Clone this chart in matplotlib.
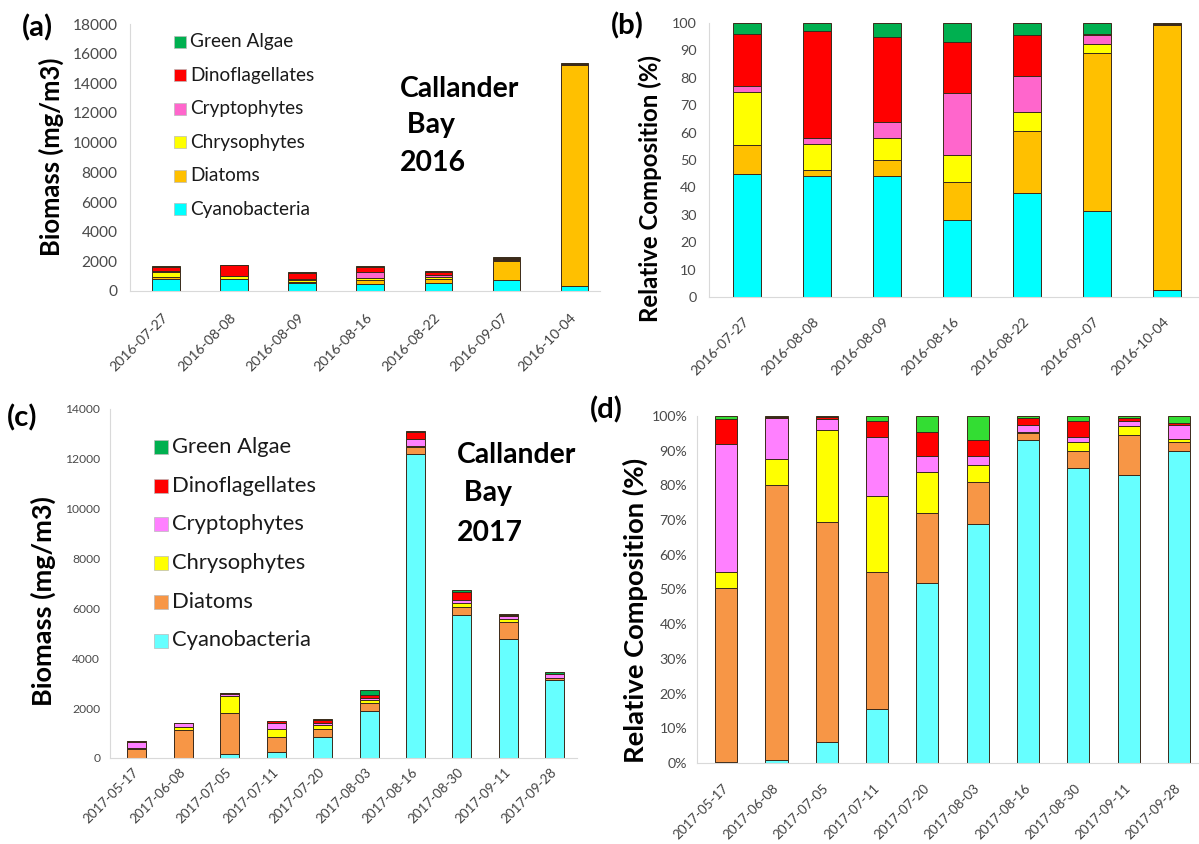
import numpy as np
import matplotlib
matplotlib.use("Agg")
import matplotlib.pyplot as plt
from matplotlib.patches import Rectangle

plt.rcParams['font.family'] = ['Lato', 'DejaVu Sans']

groups = ["Cyanobacteria", "Diatoms", "Chrysophytes", "Cryptophytes", "Dinoflagellates", "Green Algae"]

# 2016
dates_16 = ["2016-07-27", "2016-08-08", "2016-08-09", "2016-08-16", "2016-08-22", "2016-09-07", "2016-10-04"]
bio16_cyano = [780, 780, 560, 480, 520, 760, 350]
bio16_diat = [180, 45, 75, 240, 300, 1280, 14870]
bio16_chry = [330, 170, 100, 170, 95, 80, 10]
bio16_cryp = [35, 35, 75, 385, 175, 70, 10]
bio16_dino = [320, 690, 390, 315, 200, 10, 50]
bio16_green = [70, 50, 60, 120, 60, 90, 80]

pct16_cyano = [45, 44, 44, 28, 38, 31.5, 2.5]
pct16_diat = [10.5, 2.5, 6, 14, 22.5, 57.5, 96.8]
pct16_chry = [19.5, 9.5, 8, 10, 7, 3.5, 0.1]
pct16_cryp = [2, 2, 6, 22.5, 13, 3, 0.1]
pct16_dino = [19, 39, 31, 18.5, 15, 0.5, 0.2]
pct16_green = [4, 3, 5, 7, 4.5, 4, 0.3]

# 2017
dates_17 = ["2017-05-17", "2017-06-08", "2017-07-05", "2017-07-11", "2017-07-20",
            "2017-08-03", "2017-08-16", "2017-08-30", "2017-09-11", "2017-09-28"]
bio17_cyano = [2, 14, 156, 232, 840, 1880, 12200, 5730, 4790, 3110]
bio17_diat = [352, 1122, 1651, 593, 310, 324, 264, 338, 661, 85]
bio17_chry = [32, 106, 689, 330, 186, 135, 66, 169, 144, 34]
bio17_cryp = [259, 170, 78, 255, 70, 68, 264, 101, 86, 136]
bio17_dino = [49, 3, 18, 68, 108, 121, 264, 304, 58, 17]
bio17_green = [7, 5, 8, 22, 70, 189, 66, 101, 29, 68]

pct17_cyano = [0.3, 1, 6, 15.5, 52, 69, 93, 85, 83, 90]
pct17_diat = [50.2, 79, 63.5, 39.5, 20, 12, 2, 5, 11.5, 2.5]
pct17_chry = [4.5, 7.5, 26.5, 22, 12, 5, 0.5, 2.5, 2.5, 1]
pct17_cryp = [37, 12, 3, 17, 4.5, 2.5, 2, 1.5, 1.5, 4]
pct17_dino = [7, 0.2, 0.7, 4.5, 7, 4.5, 2, 4.5, 1, 0.5]
pct17_green = [1, 0.3, 0.3, 1.5, 4.5, 7, 0.5, 1.5, 0.5, 2]

colors_16 = ["#00ffff", "#ffc000", "#ffff00", "#ff66cc", "#ff0000", "#00b050"]
colors_17 = ["#66ffff", "#f79646", "#ffff00", "#ff80ff", "#ff0000", "#00b050"]
colors_17p = ["#66ffff", "#f79646", "#ffff00", "#ff80ff", "#ff0000", "#33dd33"]

W, H = 1199, 844
fig = plt.figure(figsize=(W / 100, H / 100), dpi=100)
renderer = fig.canvas.get_renderer()


def fsize(s, target_px, weight="normal"):
    # font size that makes string s about target_px wide
    t = fig.text(0, 0, s, fontsize=10, fontweight=weight)
    w = t.get_window_extent(renderer=renderer).width
    t.remove()
    return 10 * target_px / w


def add_ax(l, t, r, b):
    return fig.add_axes([l / W, 1 - b / H, (r - l) / W, (b - t) / H])


def ftext(x, y, s, **kw):
    return fig.text(x / W, 1 - y / H, s, **kw)


def stacked(ax, labels, series, colors, width, xsize, ysize, xpad, ypad):
    x = np.arange(len(labels))
    bottom = np.zeros(len(labels))
    for vals, c, name in zip(series, colors, groups):
        ax.bar(x, vals, width, bottom=bottom, color=c, edgecolor="#3b2a1a",
               linewidth=0.7, label=name)
        bottom += np.array(vals)
    ax.set_xticks(x)
    ax.set_xticklabels(labels, rotation=45, ha="right", va="center", rotation_mode="anchor",
                       fontsize=xsize, color="#404040")
    for s in ["top", "right"]:
        ax.spines[s].set_visible(False)
    for s in ["left", "bottom"]:
        ax.spines[s].set_color("#d9d9d9")
    ax.tick_params(axis="x", length=0, pad=xpad)
    ax.tick_params(axis="y", length=0, pad=ypad, labelsize=ysize, colors="#4a4a4a")


def legend_rows(x0, y0, step, box, size, colors):
    for i, (name, c) in enumerate(zip(groups[::-1], colors[::-1])):
        yc = y0 + i * step
        fig.add_artist(Rectangle(((x0) / W, 1 - (yc + box / 2) / H), box / W, box / H,
                                 transform=fig.transFigure, facecolor=c,
                                 edgecolor="#bbbbbb", linewidth=0.5))
        ftext(x0 + box + 4, yc, name, fontsize=size, va="center", ha="left", color="#1a1a1a")


def place_title(x, ys, lines, size):
    for y, s in zip(ys, lines):
        ftext(x, y, s, fontsize=size, fontweight="bold", va="center", ha="left")


xs_16 = fsize("2016-07-27", 76)
xs_17 = fsize("2017-05-17", 72)
lab_size = fsize("(a)", 31, "bold")
call_size = fsize("Callander", 120, "bold")

# (a)
ax_a = add_ax(130, 24, 600, 291)
stacked(ax_a, dates_16, [bio16_cyano, bio16_diat, bio16_chry, bio16_cryp, bio16_dino, bio16_green],
        colors_16, 0.40, xs_16, fsize("18000", 45), 18, 9)
ax_a.set_xlim(-0.53, 6.38)
ax_a.set_ylim(0, 18000)
ax_a.set_yticks(range(0, 18001, 2000))
ftext(51, 157, "Biomass (mg/m3)", rotation=90, ha="center", va="center",
      fontsize=fsize("Biomass (mg/m3)", 199, "bold"), fontweight="bold")
legend_rows(174, 42, 33.4, 12, fsize("Green Algae", 103), colors_16)
place_title(400, [89, 125, 163], ["Callander", " Bay", "2016"], call_size)
ftext(37, 28, "(a)", fontsize=lab_size, fontweight="bold", ha="center", va="center")

# (b)
ax_b = add_ax(709, 23, 1199, 297)
stacked(ax_b, dates_16, [pct16_cyano, pct16_diat, pct16_chry, pct16_cryp, pct16_dino, pct16_green],
        colors_16, 0.40, xs_16, fsize("100", 25), 16, 9)
ax_b.set_xlim(-0.54, 6.46)
ax_b.set_ylim(0, 100)
ax_b.set_yticks(range(0, 101, 10))
ftext(650, 189, "Relative Composition (%)", rotation=90, ha="center", va="center",
      fontsize=fsize("Relative Composition (%)", 268, "bold"), fontweight="bold")
ftext(627, 26, "(b)", fontsize=lab_size, fontweight="bold", ha="center", va="center")

# (c)
ax_c = add_ax(110, 409, 577, 758)
stacked(ax_c, dates_17, [bio17_cyano, bio17_diat, bio17_chry, bio17_cryp, bio17_dino, bio17_green],
        colors_17, 0.41, xs_17, fsize("14000", 35), 9, 7)
ax_c.set_xlim(-0.58, 9.48)
ax_c.set_ylim(0, 14000)
ax_c.set_yticks(range(0, 14001, 2000))
ftext(43, 601, "Biomass (mg/m3)", rotation=90, ha="center", va="center",
      fontsize=fsize("Biomass (mg/m3)", 210, "bold"), fontweight="bold")
legend_rows(154, 447, 38.7, 14, fsize("Green Algae", 119), colors_17)
place_title(457, [455, 493, 533], ["Callander", " Bay", "2017"], call_size)
ftext(22, 418, "(c)", fontsize=lab_size, fontweight="bold", ha="center", va="center")

# (d)
ax_d = add_ax(697, 416, 1199, 763)
stacked(ax_d, dates_17, [pct17_cyano, pct17_diat, pct17_chry, pct17_cryp, pct17_dino, pct17_green],
        colors_17p, 0.44, xs_17, fsize("100%", 36), 17, 7)
ax_d.set_xlim(-0.58, 9.4)
ax_d.set_ylim(0, 100)
ax_d.set_yticks(range(0, 101, 10))
ax_d.set_yticklabels([f"{v}%" for v in range(0, 101, 10)])
ftext(635, 610, "Relative Composition (%)", rotation=90, ha="center", va="center",
      fontsize=fsize("Relative Composition (%)", 305, "bold"), fontweight="bold")
ftext(606, 410, "(d)", fontsize=lab_size, fontweight="bold", ha="center", va="center")

fig.savefig("out.png", dpi=100)
